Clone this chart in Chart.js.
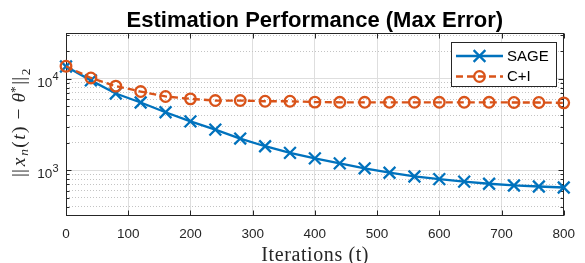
<!DOCTYPE html>
<html><head><meta charset="utf-8">
<script src="https://cdn.jsdelivr.net/npm/chart.js@4/dist/chart.umd.min.js"></script>
<style>html,body{margin:0;padding:0;background:#fff;overflow:hidden}</style>
</head><body>
<canvas id="c" width="585" height="263" style="width:585px;height:263px;display:block"></canvas>
<script>
// ---- data ----
const iterations = [0,40,80,120,160,200,240,280,320,360,400,440,480,520,560,600,640,680,720,760,800];
const sageError = [13600,9600,6900,5500,4300,3420,2780,2220,1830,1550,1350,1190,1050,940,855,800,752,712,682,664,648];
const ciError = [13700,10200,8300,7250,6400,6030,5780,5780,5680,5680,5550,5530,5530,5530,5530,5530,5530,5530,5500,5500,5450];
const seriesNames = ['SAGE', 'C+I'];
const xTicks = [0,100,200,300,400,500,600,700,800];
const yTicks = [400,500,600,700,800,900,1000,2000,3000,4000,5000,6000,7000,8000,9000,10000,20000,30000];
const yMajorTicks = [1000, 10000];
const yMajorLabels = [['10','3'], ['10','4']];
const titleText = 'Estimation Performance (Max Error)';
const xLabelText = 'Iterations (t)';

const BLUE = '#0072BD', ORANGE = '#D95319', AX = '#262626';
const isMajor = v => yMajorTicks.includes(v);

const decor = {
  id: 'decor',
  beforeDatasetsDraw(chart) {
    const ctx = chart.ctx, a = chart.chartArea;
    const xs = chart.scales.x, ys = chart.scales.y;
    const L = Math.round(a.left) + 0.5, R = Math.round(a.right) - 0.5;
    const T = Math.round(a.top) + 0.5, B = Math.round(a.bottom) - 0.5;
    ctx.save();
    ctx.strokeStyle = AX; ctx.lineWidth = 1;
    ctx.strokeRect(L, T, R - L, B - T);
    ctx.beginPath();
    xTicks.forEach(v => {
      const px = Math.round(xs.getPixelForValue(v)) + 0.5;
      ctx.moveTo(px, B); ctx.lineTo(px, B - 5);
      ctx.moveTo(px, T); ctx.lineTo(px, T + 5);
    });
    yTicks.forEach(v => {
      const py = Math.round(ys.getPixelForValue(v)) + 0.5;
      const len = isMajor(v) ? 5 : 3;
      ctx.moveTo(L, py); ctx.lineTo(L + len, py);
      ctx.moveTo(R, py); ctx.lineTo(R - len, py);
    });
    ctx.stroke();
    ctx.restore();
  },
  afterDraw(chart) {
    const ctx = chart.ctx, a = chart.chartArea;
    const ys = chart.scales.y;
    const cx = (a.left + a.right) / 2;
    ctx.save();
    // y tick labels with exponents
    ctx.fillStyle = AX; ctx.textBaseline = 'alphabetic'; ctx.textAlign = 'left';
    yMajorTicks.forEach((v, i) => {
      const py = ys.getPixelForValue(v);
      const [base, exp] = yMajorLabels[i];
      ctx.font = '13.5px "Liberation Sans"';
      const bw = ctx.measureText(base).width;
      ctx.font = '11px "Liberation Sans"';
      const ew = ctx.measureText(exp).width;
      const xEnd = a.left - 7.5;
      ctx.fillText(exp, xEnd - ew, py + 1.5);
      ctx.font = '13.5px "Liberation Sans"';
      ctx.fillText(base, xEnd - ew - bw, py + 8.2);
    });
    // title
    ctx.fillStyle = '#000'; ctx.textAlign = 'center';
    ctx.font = 'bold 22px "Liberation Sans"';
    ctx.fillText(titleText, cx, 27);
    // x label
    ctx.fillStyle = AX;
    ctx.font = '20px "Liberation Serif"';
    try { ctx.letterSpacing = '0.6px'; } catch (e) {}
    ctx.fillText(xLabelText, cx + 0.3, 260.5);
    try { ctx.letterSpacing = '0px'; } catch (e) {}
    // y label (rotated, pieces)
    const em = 19.5;
    const N = '19.5px "Liberation Serif"', I = 'italic 19.5px "Liberation Serif"';
    const S = '13.5px "Liberation Serif"', SI = 'italic 13.5px "Liberation Serif"';
    const pieces = [
      {t:'||', f:N, w:0.556, dy:0},
      {t:'x', f:I, w:0.572, dy:0},
      {t:'n', f:SI, w:0.42, dy:3},
      {t:'(', f:N, w:0.389, dy:0},
      {t:'t', f:I, w:0.361, dy:0},
      {t:')', f:N, w:0.389, dy:0},
      {t:'\u2212', f:N, w:1.222, dy:0},
      {t:'\u03B8', f:I, w:0.469, dy:0},
      {t:'*', f:S, w:0.35, dy:-6.5},
      {t:'||', f:N, w:0.556, dy:0},
      {t:'2', f:S, w:0.35, dy:4.5}
    ];
    const total = pieces.reduce((s, p) => s + p.w * em, 0);
    ctx.translate(25, (a.top + a.bottom) / 2 - 1);
    ctx.rotate(-Math.PI / 2);
    ctx.textAlign = 'left';
    let px = -total / 2;
    pieces.forEach(p => {
      ctx.font = p.f;
      const mw = ctx.measureText(p.t).width;
      ctx.fillText(p.t, px + (p.w * em - mw) / 2, p.dy);
      px += p.w * em;
    });
    ctx.restore();
    // legend
    ctx.save();
    const bx = 451.5, by = 42.5, bw = 105, bh = 44;
    ctx.fillStyle = '#fff'; ctx.fillRect(bx, by, bw, bh);
    ctx.strokeStyle = AX; ctx.lineWidth = 1; ctx.strokeRect(bx, by, bw, bh);
    const rows = [56, 76.5];
    const dss = chart.data.datasets;
    [1, 0].forEach((di, r) => {
      const ds = dss[di], y = rows[r];
      ctx.strokeStyle = ds.borderColor; ctx.lineWidth = ds.borderWidth;
      ctx.setLineDash(ds.borderDash || []);
      ctx.beginPath(); ctx.moveTo(456, y); ctx.lineTo(503, y); ctx.stroke();
      ctx.setLineDash([]);
      ctx.lineWidth = ds.pointBorderWidth;
      ctx.beginPath();
      if (ds.pointStyle === 'crossRot') {
        const d = ds.pointRadius * Math.SQRT1_2;
        ctx.moveTo(479.5 - d, y - d); ctx.lineTo(479.5 + d, y + d);
        ctx.moveTo(479.5 - d, y + d); ctx.lineTo(479.5 + d, y - d);
      } else {
        ctx.arc(479.5, y, ds.pointRadius, 0, Math.PI * 2);
      }
      ctx.stroke();
      ctx.fillStyle = '#000'; ctx.font = '15px "Liberation Sans"';
      ctx.textAlign = 'left'; ctx.textBaseline = 'middle';
      ctx.fillText(ds.label, 507, y + 0.5);
    });
    ctx.restore();
  }
};

new Chart(document.getElementById('c'), {
  type: 'line',
  data: {
    datasets: [
      {
        label: seriesNames[1],
        data: iterations.map((x, i) => ({x, y: ciError[i]})),
        borderColor: ORANGE, borderWidth: 2.3, borderDash: [7, 4],
        pointStyle: 'circle', pointRadius: 5.3, pointBorderWidth: 2.3,
        pointBorderColor: ORANGE, pointBackgroundColor: 'rgba(0,0,0,0)',
        tension: 0, clip: false, order: 0
      },
      {
        label: seriesNames[0],
        data: iterations.map((x, i) => ({x, y: sageError[i]})),
        borderColor: BLUE, borderWidth: 2.3,
        pointStyle: 'crossRot', pointRadius: 8.3, pointBorderWidth: 2.3,
        pointBorderColor: BLUE, pointBackgroundColor: BLUE,
        tension: 0, clip: false, order: 1
      }
    ]
  },
  options: {
    responsive: false, animation: false, devicePixelRatio: 1,
    layout: { padding: { top: 33, right: 18, left: 0, bottom: 0 } },
    plugins: { legend: { display: false }, title: { display: false }, tooltip: { enabled: false } },
    scales: {
      x: {
        type: 'linear', min: 0, max: 800,
        afterBuildTicks: s => { s.ticks = xTicks.map(v => ({value: v})); },
        afterFit: s => { s.height = 47; },
        ticks: { autoSkip: false, maxRotation: 0, padding: 10, color: AX,
                 font: { family: 'Liberation Sans', size: 13.5 } },
        grid: { color: c => (c.tick && (c.tick.value === 0 || c.tick.value === 800)) ? 'rgba(0,0,0,0)' : '#dedede',
                lineWidth: 1, drawTicks: false },
        border: { display: false }
      },
      y: {
        type: 'logarithmic', min: 316.2278, max: 31622.78,
        afterBuildTicks: s => { s.ticks = yTicks.map(v => ({value: v})); },
        afterFit: s => { s.width = 66; },
        ticks: { display: false, autoSkip: false },
        grid: { color: c => (c.tick && isMajor(c.tick.value)) ? '#dedede' : '#c4c4c4',
                lineWidth: 1, drawTicks: false },
        border: { display: false, dash: c => (c.tick && isMajor(c.tick.value)) ? [] : [1, 2] }
      }
    }
  },
  plugins: [decor]
});
</script>
</body></html>
